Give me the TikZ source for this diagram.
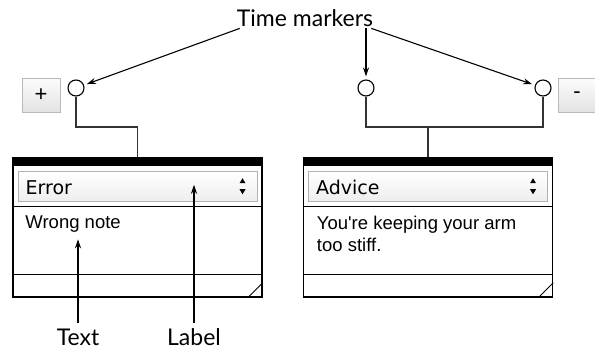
\documentclass[tikz,border=0pt]{standalone}
\usepackage{fontspec}
\setmainfont{Liberation Sans}
\newfontfamily\gillfont{Lato}
\newfontfamily\menufont{DejaVu Sans}
\usetikzlibrary{arrows.meta, positioning}

\begin{document}
\begin{tikzpicture}  [
        x = 1pt, y = -1pt,
        marker/.style  = {circle, draw, line width=1.1pt, minimum size=16pt, inner sep=0pt},
        notebox/.style = {draw, line width=1.5pt, minimum width=249pt, minimum height=139pt, inner sep=0pt},
        menubox/.style = {draw=gray!60, line width=1pt, top color=white, bottom color=gray!14,
                          minimum width=239pt, minimum height=30pt, inner sep=0pt},
        button/.style  = {draw=gray!55, top color=gray!2, bottom color=gray!22,
                          minimum width=38pt, minimum height=34pt, inner sep=0pt,
                          font=\fontsize{22}{22}\selectfont},
        caption/.style = {font=\gillfont\fontsize{23}{23}\selectfont, inner sep=1pt, anchor=base},
        menutext/.style = {font=\menufont\fontsize{19}{19}\selectfont, anchor=base west, inner sep=0pt},
        bodytext/.style = {font=\fontsize{18.5}{22}\selectfont, anchor=base west, inner sep=0pt, align=left},
        stem/.style    = {draw=black!80, line width=1.4pt},
        pointer/.style = {-{Stealth[length=9pt, width=6pt]}, line width=1.1pt, shorten >=3pt}
    ]
    \useasboundingbox (0,0) rectangle (595,350);

    % time markers and buttons
    \node[caption] (tm) at (305,27) {Time markers};
    \node[marker] (m1) at (76,88)  {};
    \node[marker] (m2) at (366,88) {};
    \node[marker] (m3) at (543,88) {};
    \node[button] (plus)  at (41,95)  {+};
    \node[button] (minus) at (577,95) {-};

    % note boxes
    \node[notebox] (note1) at (137.5,227.5) {};
    \node[notebox] (note2) at (428,227.5)   {};
    \foreach \n in {1,2} {
        \fill (note\n.north west) rectangle ++(249,9);
        \node[menubox, below = 14pt of note\n.north] (menu\n) {};
        \draw[line width=1pt] ([shift={(0,49)}]note\n.north west) -- ([shift={(0,49)}]note\n.north east);
        \draw[line width=1pt] ([shift={(0,117)}]note\n.north west) -- ([shift={(0,117)}]note\n.north east);
        \draw[line width=1pt] ([shift={(-15,0)}]note\n.south east) -- ([shift={(0,-15)}]note\n.south east);
        \fill ([shift={(225,7)}]menu\n.north west) -- ++(3,5) -- ++(-6,0) -- cycle;
        \fill ([shift={(222,18)}]menu\n.north west) -- ++(6,0) -- ++(-3,5) -- cycle;
    }
    \node[menutext] (label1) at ([shift={(8,23)}]menu1.north west) {Error};
    \node[menutext] (label2) at ([shift={(8,23)}]menu2.north west) {Advice};
    \node[bodytext] (text1) at ([shift={(13,71)}]note1.north west) {Wrong note};
    \node[bodytext] (text2) at ([shift={(14,94)}]note2.north west) {You\textquotesingle re keeping your arm\\too stiff.};

    % connectors
    \coordinate (j1) at (note1.north |- 0,127);
    \coordinate (j2) at (note2.north |- 0,127);
    \draw[stem] (m1.south) |- (j1) -- (note1.north);
    \draw[stem] (m2.south) |- (j2) -| (m3.south);
    \draw[stem] (j2) -- (note2.north);

    \draw[pointer] ([xshift=4pt]tm.south west) -- (m1);
    \draw[pointer] (tm.south -| m2) -- (m2);
    \draw[pointer] ([xshift=-3pt]tm.south east) -- (m3);

    % bottom captions
    \node[caption] (textcap)  at (78,345)  {Text};
    \node[caption] (labelcap) at (194,345) {Label};
    \draw[pointer, shorten >=0pt, shorten <=4pt] (textcap.north) -- ([yshift=-7pt]textcap.north |- text1.south);
    \draw[pointer, shorten >=0pt, shorten <=4pt] (labelcap.north) -- ([yshift=2pt]labelcap.north |- menu1.center);

\end{tikzpicture}
\end{document}
